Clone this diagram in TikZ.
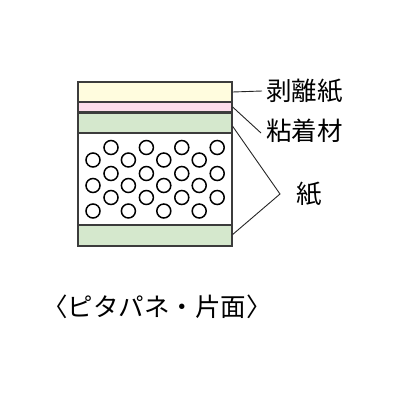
\documentclass[tikz,border=0pt]{standalone}
\usepackage{fontspec}
\newfontfamily\jp{Noto Sans CJK JP}
\usepackage{tikz}
\usetikzlibrary{positioning}
\definecolor{peelcol}{RGB}{255,252,222}
\definecolor{gluecol}{RGB}{252,221,234}
\definecolor{papercol}{RGB}{213,232,205}
\definecolor{edgecol}{RGB}{60,60,60}

\begin{document}
\begin{tikzpicture}[x=1pt, y=-1pt, layer/.style={rectangle, draw=edgecol, line width=1.3pt, minimum width=154pt, inner sep=0pt}, label/.style={font=\jp\fontsize{25.5}{27}\selectfont, inner sep=0pt, anchor=west}, lead/.style={draw=black!85, line width=0.9pt}, bubble/.style={draw=black, line width=1.5pt}]
    \useasboundingbox (0,0) rectangle (400,400);

    %Nodes
    \node[layer, fill=white, minimum height=92pt](core) at (155,179){};
    \node[layer, fill=peelcol, minimum height=20pt](peel) at (155,92){};
    \node[layer, fill=gluecol, minimum height=10pt](glue) at (155,107){};
    \node[layer, fill=papercol, minimum height=19.5pt](top) at (155,123.3){};
    \node[layer, fill=papercol, minimum height=21pt](bottom) at (155,235.5){};
    \node[label](peeltext) at (266,91){剥離紙};
    \node[label](gluetext) at (266,131){粘着材};
    \coordinate (apex) at (280,194);
    \node[label](papertext) at (296,194){紙};
    \node[font=\jp\fontsize{25.5}{27}\selectfont, inner sep=0pt](title) at (157,307){〈ピタパネ・片面〉};

    %Bubbles
    \foreach \cy/\cx in {147.5/111,160/93,173.5/111,185.5/93,197.5/111,211/93}
        \foreach \i in {0,...,3}
            \draw[bubble] (\cx+35.4*\i,\cy) circle (7pt);

    %Lines
    \draw[lead] (peel.east) -- ([xshift=-4pt]peeltext.west);
    \draw[lead] (glue.east) -- ([xshift=-5pt, yshift=-2pt]gluetext.west);
    \draw[lead] ([yshift=-3pt]top.east) -- (apex) -- ([yshift=1pt]bottom.east);

\end{tikzpicture}
\end{document}
